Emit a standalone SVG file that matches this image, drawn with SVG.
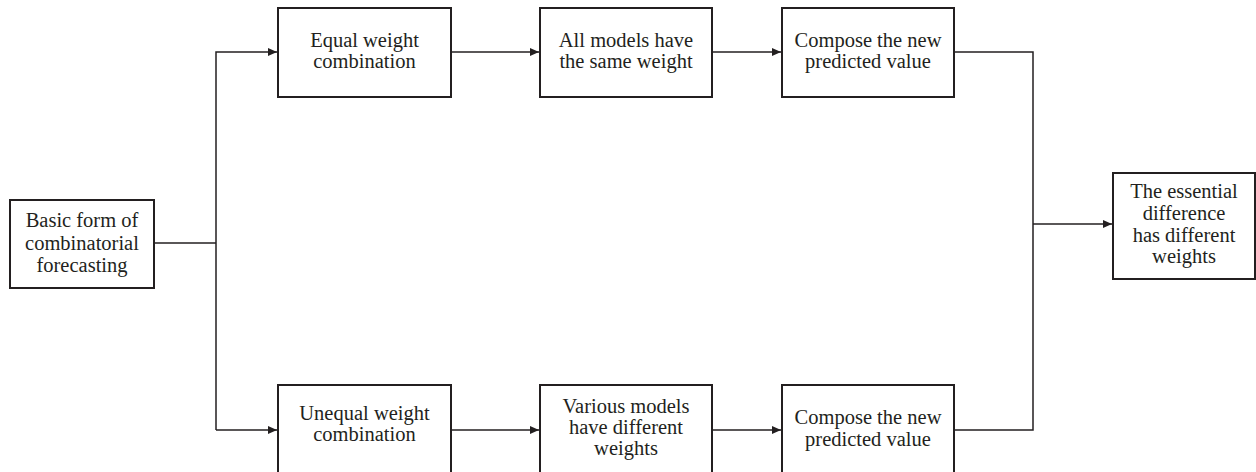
<svg xmlns="http://www.w3.org/2000/svg" width="1256" height="472" viewBox="0 0 1256 472">
<style>
.box{fill:#fff;stroke:#231f20;stroke-width:2}
.t{font-family:"Liberation Serif","Times New Roman",serif;font-size:20.5px;fill:#231f20;text-anchor:middle}
.ln{fill:none;stroke:#231f20;stroke-width:1.5}
</style>
<defs>
<marker id="ah" markerWidth="9" markerHeight="8" refX="9" refY="4" orient="auto" markerUnits="userSpaceOnUse">
<path d="M0,0 L9,4 L0,8 Z" fill="#231f20"/>
</marker>
</defs>
<g id="connectors">
<path class="ln" d="M154,243 H216"/>
<path class="ln" d="M216,430 V52 H277" marker-end="url(#ah)"/>
<path class="ln" d="M216,430 H277" marker-end="url(#ah)"/>
<path class="ln" d="M451,52 H539" marker-end="url(#ah)"/>
<path class="ln" d="M712,52 H781" marker-end="url(#ah)"/>
<path class="ln" d="M451,430 H539" marker-end="url(#ah)"/>
<path class="ln" d="M712,430 H781" marker-end="url(#ah)"/>
<path class="ln" d="M954,52 H1033 V430 H954"/>
<path class="ln" d="M1033,224 H1112" marker-end="url(#ah)"/>
</g>
<g id="basic">
<rect class="box" x="10" y="200" width="144" height="88"/>
<text class="t" x="82" y="227">Basic form of</text>
<text class="t" x="82" y="250">combinatorial</text>
<text class="t" x="82" y="272">forecasting</text>
</g>
<g id="equal">
<rect class="box" x="278" y="8" width="173" height="89"/>
<text class="t" x="364.5" y="47">Equal weight</text>
<text class="t" x="364.5" y="68">combination</text>
</g>
<g id="same">
<rect class="box" x="540" y="8" width="172" height="89"/>
<text class="t" x="626" y="47">All models have</text>
<text class="t" x="626" y="68">the same weight</text>
</g>
<g id="compose1">
<rect class="box" x="782" y="8" width="172" height="89"/>
<text class="t" x="868" y="47">Compose the new</text>
<text class="t" x="868" y="68">predicted value</text>
</g>
<g id="unequal">
<rect class="box" x="278" y="385" width="173" height="89"/>
<text class="t" x="364.5" y="420">Unequal weight</text>
<text class="t" x="364.5" y="441">combination</text>
</g>
<g id="various">
<rect class="box" x="540" y="385" width="172" height="89"/>
<text class="t" x="626" y="413">Various models</text>
<text class="t" x="626" y="434">have different</text>
<text class="t" x="626" y="455">weights</text>
</g>
<g id="compose2">
<rect class="box" x="782" y="385" width="172" height="89"/>
<text class="t" x="868" y="424">Compose the new</text>
<text class="t" x="868" y="446">predicted value</text>
</g>
<g id="essential">
<rect class="box" x="1113" y="173" width="142" height="106"/>
<text class="t" x="1184" y="198">The essential</text>
<text class="t" x="1184" y="220">difference</text>
<text class="t" x="1184" y="242">has different</text>
<text class="t" x="1184" y="263">weights</text>
</g>
</svg>
